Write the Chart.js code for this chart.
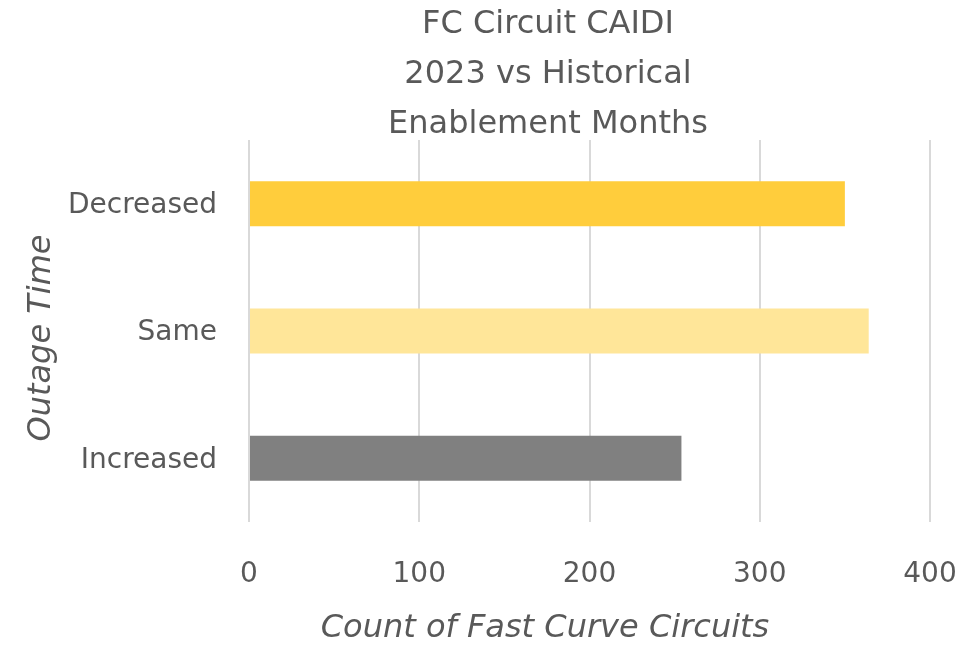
<!DOCTYPE html>
<html><head><meta charset="utf-8">
<script src="https://cdn.jsdelivr.net/npm/chart.js@4/dist/chart.umd.min.js"></script>
<style>html,body{margin:0;padding:0;background:#fff}#wrap{width:965px;height:647px}</style>
</head><body><div id="wrap"><canvas id="c" width="965" height="647"></canvas></div>
<script>
const categories = ["Decreased", "Same", "Increased"];
const counts = [350, 364, 254];
const barColors = ["#FFCD3C", "#FFE699", "#808080"];
const xTicks = [0, 100, 200, 300, 400];
const titleLines = ["FC Circuit CAIDI", "2023 vs Historical", "Enablement Months"];
const xAxisTitle = "Count of Fast Curve Circuits";
const yAxisTitle = "Outage Time";

const FONT = "'DejaVu Sans', sans-serif";
const TEXT = '#595959';

const textPlugin = {
  id: 'chartTexts',
  afterDraw(chart) {
    const ctx = chart.ctx;
    ctx.save();
    ctx.fillStyle = TEXT;
    ctx.textAlign = 'center';
    ctx.textBaseline = 'middle';
    // main title (3 lines)
    ctx.font = "32px " + FONT;
    titleLines.forEach((line, i) => ctx.fillText(line, 548, 25 + i * 50));
    // x axis title
    ctx.font = "oblique 32px " + FONT;
    ctx.fillText(xAxisTitle, 545, 629);
    // y axis title
    ctx.translate(42, 338);
    ctx.rotate(-Math.PI / 2);
    ctx.fillText(yAxisTitle, 0, 0);
    ctx.restore();
  }
};

new Chart(document.getElementById('c'), {
  type: 'bar',
  data: {
    labels: categories,
    datasets: [{
      data: counts,
      backgroundColor: barColors,
      borderWidth: 0,
      barPercentage: 0.353,
      categoryPercentage: 1
    }]
  },
  plugins: [textPlugin],
  options: {
    indexAxis: 'y',
    responsive: false,
    animation: false,
    layout: { padding: { left: 40, right: 35, top: 140, bottom: 0 } },
    plugins: {
      legend: { display: false },
      tooltip: { enabled: false },
      title: { display: false }
    },
    scales: {
      x: {
        min: 0, max: 400,
        afterBuildTicks: (ax) => { ax.ticks = xTicks.map(v => ({ value: v })); },
        afterFit: (ax) => { ax.height = 125; ax.paddingLeft = 0; ax.paddingRight = 0; },
        grid: { color: '#d9d9d9', lineWidth: 2, drawTicks: false },
        border: { display: false },
        ticks: { color: TEXT, font: { family: FONT, size: 28 }, padding: 36 }
      },
      y: {
        afterFit: (ax) => { ax.width = 209; },
        grid: { display: false },
        border: { display: false },
        ticks: { color: TEXT, font: { family: FONT, size: 28 }, padding: 24, labelOffset: 2 }
      }
    }
  }
});
</script></body></html>
